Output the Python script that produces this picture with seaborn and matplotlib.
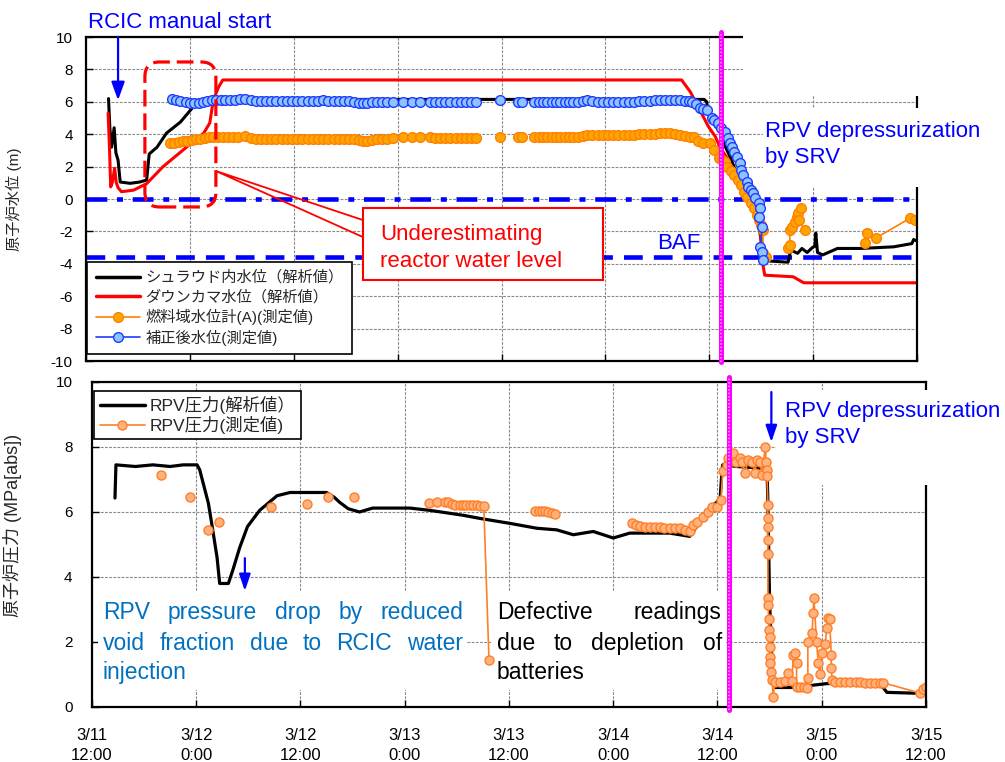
import numpy as np
import pandas as pd
import matplotlib
matplotlib.use('Agg')
import matplotlib.pyplot as plt
import seaborn as sns
from matplotlib.patches import Rectangle, FancyBboxPatch, Polygon
from matplotlib.lines import Line2D

# hours after 3/11 12:00 ; None splits a series into unconnected pieces
shroud_level = [
    (2.6, 6.2), (2.75, 4.4), (2.95, 3.2), (3.25, 4.4), (3.45, 2.85), (3.7, 2.4), (3.95, 1.05),
    (5.1, 0.97), (6.2, 1.05), (7.0, 1.17), (7.3, 2.78), (8.2, 3.2), (9.3, 4.07), (10.9, 4.75),
    (12.4, 5.7), (13.2, 5.9), (14.3, 6.1), (16.0, 6.15), (71.4, 6.15), (71.7, 6.0), (71.9, 5.2),
    (72.3, 5.1), (72.7, 4.5), (73.2, 4.2), (73.8, 3.3), (74.4, 2.6), (75.0, 1.8), (75.6, 1.2),
    (76.2, 0.6), (76.8, 0.0), (77.3, -0.8), (77.7, -1.6), (78.0, -2.6), (78.2, -3.8), (81.1, -3.9),
    (81.4, -3.15), (82.2, -3.35), (82.7, -3.05), (83.3, -3.3), (83.9, -3.0), (84.2, -2.9),
    (84.3, -2.1), (84.5, -3.3), (85.1, -3.45), (86.8, -3.05), (89.5, -3.05), (93.3, -2.95),
    (95.4, -2.75), (95.6, -2.5), (96.0, -2.6)]

downcomer_level = [
    (2.55, 5.3), (2.65, 4.0), (2.75, 2.5), (2.85, 0.75), (3.05, 1.05), (3.3, 1.9), (3.5, 1.0),
    (3.7, 0.7), (4.1, 0.45), (5.5, 0.55), (7.0, 0.95), (8.9, 2.0), (11.6, 3.2), (13.6, 4.07),
    (14.3, 4.7), (14.7, 6.1), (15.3, 6.9), (15.8, 7.35), (68.8, 7.35), (69.8, 6.62), (70.9, 5.5),
    (71.9, 4.47), (72.7, 3.85), (73.2, 3.23), (74.2, 2.41), (74.8, 1.79), (75.6, 1.17),
    (76.7, -0.06), (77.5, -0.88), (77.9, -1.9), (78.1, -3.77), (78.4, -4.7), (81.7, -4.8),
    (82.9, -5.17), (96.0, -5.17)]

fuel_range_level = [
    (9.7, 3.44), (10.2, 3.48), (10.7, 3.52), (11.2, 3.56), (11.7, 3.6), (12.2, 3.64), (12.7, 3.68),
    (13.2, 3.72), (13.7, 3.76), (14.2, 3.8), (14.7, 3.82), (15.2, 3.82), (15.8, 3.82), (16.4, 3.82),
    (17.0, 3.82), (17.6, 3.82), (18.4, 3.88), (19.0, 3.75), (19.6, 3.72), (20.2, 3.7), (20.8, 3.7),
    (21.4, 3.7), (22.0, 3.7), (22.6, 3.7), (23.2, 3.7), (23.8, 3.7), (24.4, 3.7), (25.0, 3.7),
    (25.6, 3.7), (26.2, 3.7), (26.8, 3.7), (27.4, 3.7), (28.0, 3.7), (28.6, 3.7), (29.2, 3.7),
    (29.8, 3.7), (30.4, 3.7), (31.0, 3.68), (31.5, 3.62), (32.0, 3.58), (32.5, 3.6), (33.0, 3.65),
    (33.6, 3.68), (34.2, 3.7), (34.8, 3.7), (35.5, 3.75), (36.6, 3.8), (37.6, 3.8), (38.6, 3.8),
    (39.7, 3.8), (40.3, 3.75), (40.9, 3.75), (41.5, 3.75), (42.1, 3.75), (42.7, 3.75), (43.3, 3.75),
    (43.9, 3.75), (44.5, 3.75), (45.1, 3.75), None,
    (47.8, 3.8), None, (49.9, 3.8), (50.4, 3.8), None,
    (51.8, 3.85), (52.3, 3.85), (52.8, 3.85), (53.3, 3.85), (53.8, 3.85), (54.3, 3.85), (54.8, 3.85),
    (55.3, 3.85), (55.8, 3.85), (56.3, 3.85), (56.8, 3.85), (57.4, 3.9), (57.9, 3.95), (58.5, 3.95),
    (59.1, 3.95), (59.7, 3.95), (60.3, 3.95), (60.9, 3.95), (61.5, 3.95), (62.1, 3.97), (62.7, 3.97),
    (63.3, 3.97), (63.9, 4.0), (64.5, 4.0), (65.1, 4.0), (65.7, 4.03), (66.3, 4.06), (66.9, 4.06),
    (67.5, 4.06), (68.0, 4.03), (68.6, 3.95), (69.2, 3.9), (69.8, 3.85), (70.2, 3.85), (70.7, 3.6),
    (71.3, 3.44), (72.1, 3.44), (72.5, 3.03), (73.1, 2.52), (73.5, 2.4), (73.8, 2.31), (74.1, 2.0),
    (74.5, 1.7), (74.9, 1.48), (75.3, 1.17), (75.7, 0.87), (76.0, 0.45), (76.4, 0.14), (76.8, -0.27),
    (77.2, -0.58), (77.5, -1.0), (77.7, -1.3), (78.0, -1.6), (78.2, -1.9), (78.2, -3.35),
    (78.6, -3.56), None,
    (81.1, -3.04), (81.3, -2.83), (81.3, -1.9), (81.5, -1.7), (81.9, -1.4), (82.1, -1.1),
    (82.3, -0.87), (82.6, -0.58), (82.4, -1.3), (83.0, -1.9), None,
    (90.0, -2.73), (90.2, -2.1), (91.2, -2.42), (95.2, -1.18), (95.8, -1.27), (96.6, -1.6)]

corrected_level = [
    (9.9, 6.15), (10.4, 6.1), (10.9, 6.05), (11.5, 6.0), (12.0, 5.95), (12.5, 5.9), (13.0, 5.95),
    (13.5, 6.0), (14.0, 6.05), (14.5, 6.1), (15.0, 6.1), (15.6, 6.1), (16.1, 6.1), (16.6, 6.1),
    (17.2, 6.1), (17.8, 6.15), (18.4, 6.2), (19.0, 6.1), (19.6, 6.05), (20.2, 6.05), (20.8, 6.05),
    (21.4, 6.05), (22.0, 6.05), (22.6, 6.05), (23.2, 6.05), (23.8, 6.05), (24.4, 6.05), (25.0, 6.05),
    (25.6, 6.05), (26.2, 6.05), (26.8, 6.05), (27.4, 6.1), (28.0, 6.05), (28.6, 6.05), (29.2, 6.05),
    (29.8, 6.05), (30.4, 6.05), (31.0, 6.0), (31.5, 5.95), (32.0, 5.95), (32.5, 5.95), (33.0, 6.0),
    (33.6, 6.0), (34.2, 6.0), (34.8, 6.0), (35.5, 6.0), (36.6, 6.0), (37.6, 6.0), (38.6, 6.0),
    (39.7, 6.0), (40.3, 6.0), (40.9, 6.0), (41.5, 6.0), (42.1, 6.0), (42.7, 6.0), (43.3, 6.0),
    (43.9, 6.0), (44.5, 6.0), (45.1, 6.0), None,
    (47.8, 6.1), None, (49.9, 6.0), (50.4, 6.0), None,
    (51.8, 6.0), (52.3, 6.0), (52.8, 6.0), (53.3, 6.0), (53.8, 6.0), (54.3, 6.0), (54.8, 6.0),
    (55.3, 6.0), (55.8, 6.0), (56.3, 6.0), (56.8, 6.0), (57.4, 6.05), (57.9, 6.12), (58.5, 6.05),
    (59.1, 6.02), (59.7, 6.0), (60.3, 6.0), (60.9, 6.0), (61.5, 6.0), (62.1, 6.0), (62.7, 6.02),
    (63.3, 6.02), (63.9, 6.05), (64.5, 6.05), (65.1, 6.08), (65.7, 6.1), (66.3, 6.12), (66.9, 6.12),
    (67.5, 6.12), (68.0, 6.12), (68.6, 6.1), (69.2, 6.08), (69.6, 6.05), (70.0, 6.0), (70.5, 5.85),
    (70.9, 5.6), (71.3, 5.55), (71.7, 5.5), (72.3, 4.98), (72.6, 4.85), (73.0, 4.67), (73.4, 4.36),
    (73.8, 4.16), (74.2, 3.75), (74.4, 3.44), (74.6, 3.2), (74.8, 2.92), (75.2, 2.61), (75.6, 2.2),
    (75.7, 1.79), (75.9, 1.48), (76.3, 1.07), (76.5, 0.76), (76.8, 0.55), (77.1, 0.35), (77.3, 0.04),
    (77.7, -0.27), (77.9, -0.58), (77.7, -1.09), (78.1, -1.71), (77.9, -2.94), (78.1, -3.25),
    (78.2, -3.77)]

rpv_pressure_calc = [
    (2.65, 6.43), (2.76, 7.45), (5.0, 7.4), (7.0, 7.45), (9.0, 7.4), (10.5, 7.45), (12.1, 7.45),
    (12.4, 7.3), (13.4, 6.27), (13.9, 5.45), (14.4, 4.6), (14.7, 3.8), (15.7, 3.8), (16.2, 4.2),
    (17.0, 4.9), (17.9, 5.55), (19.3, 6.05), (21.3, 6.5), (22.8, 6.6), (27.0, 6.6), (27.9, 6.45),
    (28.5, 6.3), (29.5, 6.1), (30.8, 6.0), (32.3, 6.12), (36.6, 6.12), (38.9, 6.05), (42.7, 5.9),
    (44.7, 5.8), (48.1, 5.65), (51.2, 5.5), (53.5, 5.45), (55.4, 5.3), (57.7, 5.4), (60.0, 5.2),
    (61.9, 5.35), (66.5, 5.35), (68.8, 5.25), (69.6, 5.55), (71.1, 6.1), (72.3, 6.4), (72.5, 7.2),
    (72.6, 7.45), (74.2, 7.4), (76.9, 7.35), (77.7, 7.3), (77.8, 6.3), (78.0, 3.2), (78.3, 1.15),
    (78.6, 0.6), (80.7, 0.6), (84.6, 0.72), (90.7, 0.72), (91.5, 0.45), (95.3, 0.42), (96.0, 0.42)]

rpv_pressure_meas = [
    (7.9, 7.15), None, (11.3, 6.45), None, (13.3, 5.45), None, (14.6, 5.7), None, (20.6, 6.15), None,
    (24.8, 6.25), None, (27.2, 6.45), None, (30.2, 6.45), None,
    (38.8, 6.27), (39.7, 6.3), (40.6, 6.3), (41.0, 6.3), (41.4, 6.25), (41.8, 6.23), (42.4, 6.23),
    (42.7, 6.23), (43.1, 6.23), (43.5, 6.23), (43.9, 6.2), (44.3, 6.2), (44.7, 6.17), (45.1, 6.17),
    (45.7, 1.45), None,
    (51.0, 6.03), (51.4, 6.03), (51.8, 6.03), (52.1, 6.03), (52.5, 6.0), (52.9, 5.97), (53.3, 5.93), None,
    (62.2, 5.65), (62.6, 5.6), (63.1, 5.58), (63.7, 5.55), (64.2, 5.55), (64.8, 5.55), (65.4, 5.55),
    (65.9, 5.5), (66.5, 5.5), (67.1, 5.5), (67.7, 5.5), (68.3, 5.45), (68.8, 5.42), (69.2, 5.6),
    (69.6, 5.7), (70.3, 5.85), (70.9, 6.0), (71.4, 6.15), (71.9, 6.15), (72.4, 6.37), (72.6, 7.25),
    (73.1, 7.45), (73.2, 7.65), (73.8, 7.8), (74.1, 7.55), (74.6, 7.65), (74.8, 7.55), (75.2, 7.2),
    (75.5, 7.6), (76.0, 7.55), (76.3, 7.2), (76.5, 7.6), (76.9, 7.55), (77.1, 7.15), (77.5, 8.0),
    (77.6, 7.55), (77.7, 7.3), (77.7, 7.1), (77.8, 6.2), (77.8, 5.8), (77.8, 5.55), (77.8, 5.15),
    (77.8, 4.7), (77.8, 3.35), (77.8, 3.15), (77.9, 2.7), (77.9, 2.37), (78.0, 2.15), (78.0, 1.85),
    (78.0, 1.55), (78.0, 1.35), (78.2, 1.08), (78.3, 0.83), (78.4, 0.3), (78.6, 0.77), (79.2, 0.77),
    (79.8, 0.8), (80.1, 1.05), (80.6, 0.8), (80.7, 1.6), (80.9, 1.65), (81.1, 1.35), (81.1, 0.6),
    (81.5, 0.6), (82.0, 0.6), (82.3, 0.58), (82.4, 0.9), (82.4, 2.0), (82.9, 2.28), (83.0, 2.9),
    (83.1, 3.35), (83.4, 2.0), (83.6, 1.35), (83.8, 1.0), (84.0, 1.65), (84.4, 1.95), (84.6, 2.43),
    (84.7, 2.75), (84.9, 2.7), (85.1, 1.6), (85.1, 1.2), (85.2, 0.83), (85.5, 0.77), (86.1, 0.77),
    (86.7, 0.77), (87.3, 0.77), (87.9, 0.77), (88.4, 0.77), (89.0, 0.75), (89.6, 0.75), (90.1, 0.75),
    (90.7, 0.75), (91.0, 0.75), (95.3, 0.43), (95.7, 0.55), (96.0, 0.62)]

tick_hours = [0, 12, 24, 36, 48, 60, 72, 84, 96]
tick_labels = ['3/11\n12:00', '3/12\n0:00', '3/12\n12:00', '3/13\n0:00', '3/13\n12:00',
               '3/14\n0:00', '3/14\n12:00', '3/15\n0:00', '3/15\n12:00']
taf_level = 0.0
baf_level = -3.6
event_hour = 73.35

sns.set_style('ticks')
plt.rcParams['font.family'] = ['Liberation Sans', 'Noto Sans CJK JP', 'DejaVu Sans']
plt.rcParams['axes.unicode_minus'] = False
plt.rcParams['lines.scale_dashes'] = False

BLUE = '#0000FF'


def to_frame(pairs):
    rows, seg = [], 0
    for p in pairs:
        if p is None:
            seg += 1
            continue
        rows.append((p[0], p[1], seg))
    return pd.DataFrame(rows, columns=['hour', 'value', 'seg'])


def draw(ax, pairs, z, **kw):
    sns.lineplot(data=to_frame(pairs), x='hour', y='value', units='seg', estimator=None,
                 sort=False, legend=False, ax=ax, zorder=z, **kw)


def justify(ax, lines, x0, x1, baselines, **kw):
    renderer = ax.figure.canvas.get_renderer()
    left = ax.transData.transform((x0, 0))[0]
    right = ax.transData.transform((x1, 0))[0]
    inv = ax.transData.inverted()
    for i, (line, yb) in enumerate(zip(lines, baselines)):
        words = line.split()
        if i == len(lines) - 1 or len(words) < 2:
            ax.text(x0, yb, line, va='baseline', ha='left', **kw)
            continue
        items = [ax.text(x0, yb, w, va='baseline', ha='left', **kw) for w in words]
        widths = [t.get_window_extent(renderer).width for t in items]
        gap = (right - left - sum(widths)) / (len(words) - 1)
        pos = left
        for t, w in zip(items, widths):
            t.set_x(inv.transform((pos, 0))[0])
            pos += w + gap


def style_axes(ax, ylim, yticks, ypad):
    ax.set_xlim(0, 96)
    ax.set_ylim(*ylim)
    ax.set_xticks(tick_hours)
    ax.set_yticks(yticks)
    ax.grid(True, color='#8a8a8a', lw=0.8, ls=(0, (2, 1)))
    for s in ax.spines.values():
        s.set_color('black')
        s.set_linewidth(1.6)
    ax.tick_params(axis='both', direction='in', length=5, width=1, colors='black', labelsize=11)
    ax.tick_params(axis='y', pad=ypad)
    ax.set_xlabel('')


fig = plt.figure(figsize=(10.05, 7.62), dpi=100)
ax_top = fig.add_axes([0.0856, 0.5262, 0.8269, 0.4252])
ax_bot = fig.add_axes([0.0915, 0.0722, 0.8299, 0.4265])

# ---------------- top: water level ----------------
draw(ax_top, shroud_level, 2.1, color='black', lw=2.2)
draw(ax_top, downcomer_level, 2.2, color='#FF0000', lw=2.2)
draw(ax_top, fuel_range_level, 2.3, color='#FF8000', lw=1.2, marker='o', markersize=7,
     markerfacecolor='#FFA500', markeredgecolor='#FF8000', markeredgewidth=1.0)
draw(ax_top, corrected_level, 2.4, color='#1E3CFF', lw=1.2, marker='o', markersize=7,
     markerfacecolor='#8DC4FF', markeredgecolor='#1E3CFF', markeredgewidth=1.0)
style_axes(ax_top, (-10, 10), np.arange(-10, 11, 2), 9.5)
ax_top.set_xticklabels([])
ax_top.set_ylabel('原子炉水位 (m)', fontsize=11)
ax_top.yaxis.set_label_coords(-0.077, 0.5)

ax_top.axhline(taf_level, color=BLUE, lw=3.3, ls=(0, (15, 7, 4.3, 7)), zorder=2.05)
ax_top.axhline(baf_level, color=BLUE, lw=3.3, ls=(0, (13.5, 8)), zorder=2.05)
ax_top.text(66.0, -2.72, 'BAF', color=BLUE, fontsize=16, va='center')

top_handles = [
    Line2D([], [], color='black', lw=2.5, label='シュラウド内水位（解析値）'),
    Line2D([], [], color='#FF0000', lw=2.5, label='ダウンカマ水位（解析値）'),
    Line2D([], [], color='#FF8000', lw=1.2, marker='o', ms=7, mfc='#FFA500', mec='#FF8000',
           label='燃料域水位計(A)(測定値)'),
    Line2D([], [], color='#1E3CFF', lw=1.2, marker='o', ms=7, mfc='#8DC4FF', mec='#1E3CFF',
           label='補正後水位(測定値)'),
]
leg = ax_top.legend(handles=top_handles, loc='upper left', bbox_to_anchor=(0.0015, 0.306),
                    borderaxespad=0, fontsize=11, fancybox=False, edgecolor='black',
                    framealpha=1, handlelength=2.9, labelspacing=0.3, borderpad=0.55,
                    handletextpad=0.35)
leg.get_frame().set_linewidth(1.2)

ax_top.annotate('', xy=(3.7, 6.1), xytext=(3.7, 10.0), annotation_clip=False,
                arrowprops=dict(arrowstyle='-|>,head_length=0.55,head_width=0.2', color=BLUE,
                                lw=1.6, mutation_scale=20, shrinkA=0, shrinkB=0))
ax_top.text(0.2, 10.9, 'RCIC manual start', color=BLUE, fontsize=16, va='center', clip_on=False)

ax_top.add_patch(FancyBboxPatch((6.8, -0.49), 8.2, 8.95,
                                boxstyle='round,pad=0,rounding_size=1.7', mutation_aspect=0.535,
                                fill=False, ec='#FF0000', lw=2.3, ls=(0, (12, 5)), zorder=4))
ax_top.add_patch(Polygon([(32.0, -1.30), (15.0, 1.73), (32.0, -2.35)], closed=False, fill=False,
                         ec='#FF0000', lw=1.3, zorder=5))
ax_top.add_patch(Rectangle((32.0, -5.0), 27.7, 4.44, fc='white', ec='#FF0000', lw=1.5, zorder=6))
ax_top.text(34.0, -3.02, 'Underestimating\nreactor water level', color='#FF0000', fontsize=16,
            va='center', ha='left', linespacing=1.33, zorder=7)

ax_top.add_patch(Rectangle((0.7906, 0.818), 0.32, 0.22, transform=ax_top.transAxes, fc='white',
                           ec='none', zorder=3, clip_on=False))
ax_top.add_patch(Rectangle((0.8147, 0.537), 0.30, 0.244, transform=ax_top.transAxes, fc='white',
                           ec='none', zorder=3, clip_on=False))
ax_top.text(78.4, 3.39, 'RPV depressurization\nby SRV', color=BLUE, fontsize=16, va='center',
            linespacing=1.3, zorder=4, clip_on=False)

ax_top.plot([event_hour, event_hour], [-10.06, 10.31], color='#FF00FF', lw=3.6, zorder=5,
            clip_on=False)
ax_top.plot([event_hour, event_hour], [-10.06, 10.31], color='#FFA0FF', lw=1.2, ls=(0, (1, 1.5)),
            zorder=5.1, clip_on=False)

# ---------------- bottom: RPV pressure ----------------
draw(ax_bot, rpv_pressure_calc, 2.1, color='black', lw=2.3)
draw(ax_bot, rpv_pressure_meas, 2.3, color='#FF7F27', lw=1.2, marker='o', markersize=6.5,
     markerfacecolor='#FFB27F', markeredgecolor='#FF7F27', markeredgewidth=1.0)
style_axes(ax_bot, (0, 10), np.arange(0, 11, 2), 14)
ax_bot.set_xticklabels(tick_labels, fontsize=12, linespacing=1.45)
ax_bot.tick_params(axis='x', pad=15)
ax_bot.set_ylabel('原子炉圧力 (MPa[abs])', fontsize=13)
ax_bot.yaxis.set_label_coords(-0.084, 0.56)

bot_handles = [
    Line2D([], [], color='black', lw=2.5, label='RPV圧力(解析値）'),
    Line2D([], [], color='#FF7F27', lw=1.2, marker='o', ms=6.5, mfc='#FFB27F', mec='#FF7F27',
           label='RPV圧力(測定値)'),
]
leg2 = ax_bot.legend(handles=bot_handles, loc='upper left', bbox_to_anchor=(0.003, 0.972),
                     borderaxespad=0, fontsize=12.5, fancybox=False, edgecolor='black',
                     framealpha=1, handlelength=2.6, labelspacing=0.1, borderpad=0.3,
                     handletextpad=0.3)
leg2.get_frame().set_linewidth(1.2)

ax_bot.add_patch(Rectangle((0.7, 0.52), 42.35, 3.02, fc='white', ec='none', zorder=1.8))
ax_bot.add_patch(Rectangle((46.0, 0.52), 27.0, 3.02, fc='white', ec='none', zorder=1.8))
justify(ax_bot, ['RPV pressure drop by reduced', 'void fraction due to RCIC water', 'injection'],
        1.27, 42.7, [2.7, 1.75, 0.85], color='#0070C0', fontsize=16.5, zorder=4)
justify(ax_bot, ['Defective readings', 'due to depletion of', 'batteries'],
        46.6, 72.5, [2.7, 1.75, 0.85], color='black', fontsize=16.5, zorder=4)
ax_bot.annotate('', xy=(17.6, 3.57), xytext=(17.6, 4.58),
                arrowprops=dict(arrowstyle='-|>,head_length=0.5,head_width=0.17', color=BLUE,
                                lw=1.6, mutation_scale=20, shrinkA=0, shrinkB=0))

ax_bot.add_patch(Rectangle((0.820, 0.683), 0.3, 0.292, transform=ax_bot.transAxes, fc='white',
                           ec='none', zorder=3, clip_on=False))
ax_bot.text(79.8, 8.68, 'RPV depressurization\nby SRV', color=BLUE, fontsize=16, va='center',
            linespacing=1.3, zorder=4, clip_on=False)
ax_bot.annotate('', xy=(78.2, 8.15), xytext=(78.2, 9.69), annotation_clip=False,
                arrowprops=dict(arrowstyle='-|>,head_length=0.5,head_width=0.17', color=BLUE,
                                lw=1.6, mutation_scale=20, shrinkA=0, shrinkB=0), zorder=5)

ax_bot.plot([event_hour, event_hour], [-0.09, 10.15], color='#FF00FF', lw=3.6, zorder=5,
            clip_on=False)
ax_bot.plot([event_hour, event_hour], [-0.09, 10.15], color='#FFA0FF', lw=1.2, ls=(0, (1, 1.5)),
            zorder=5.1, clip_on=False)

fig.savefig('out.png', dpi=100, facecolor='white')
